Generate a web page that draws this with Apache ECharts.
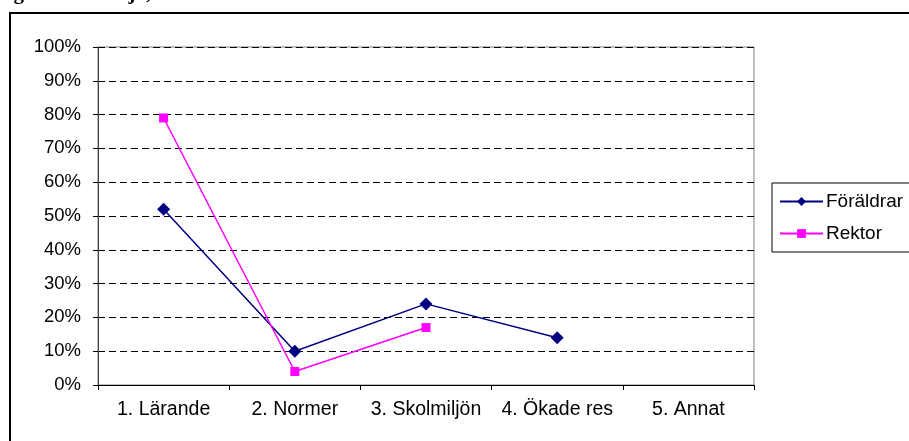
<!DOCTYPE html>
<html>
<head>
<meta charset="utf-8">
<script src="https://cdn.jsdelivr.net/npm/echarts@6/dist/echarts.min.js"></script>
<style>
html,body{margin:0;padding:0;background:#fff;}
#c{width:909px;height:441px;}
</style>
</head>
<body>
<div id="c"></div>
<script>
var categories = ['1. Lärande', '2. Normer', '3. Skolmiljön', '4. Ökade res', '5. Annat'];
var foraldrar = [52, 10, 24, 14, null];
var rektor = [79, 4, 17, null, null];
var yTicks = [0, 10, 20, 30, 40, 50, 60, 70, 80, 90, 100];

var chart = echarts.init(document.getElementById('c'), null, {renderer: 'canvas'});
var font = 'Liberation Sans, Arial, sans-serif';
chart.setOption({
  animation: false,
  backgroundColor: '#fff',
  graphic: [
    {type: 'rect', shape: {x: 10, y: 13, width: 1000, height: 1000},
     style: {fill: 'none', stroke: '#000', lineWidth: 2}, z: 100},
    {type: 'text', left: -18, top: -17,
     style: {text: 'Diagram 5: Om ja, vad har förbättrats i skolan?', font: 'bold 21px "Liberation Serif", serif', fill: '#000'}}
  ],
  grid: {left: 98, right: 155, top: 47, bottom: 56, show: true, borderColor: '#808080', borderWidth: 1, backgroundColor: 'transparent'},
  legend: {
    orient: 'vertical', left: 772, top: 183,
    backgroundColor: '#fff', borderColor: '#000', borderWidth: 1,
    padding: [9, 30, 9, 7], itemGap: 13, itemWidth: 43, itemHeight: 11,
    textStyle: {fontFamily: font, fontSize: 19, color: '#000', padding: [0, 0, 0, -2]},
    data: ['Föräldrar', 'Rektor']
  },
  xAxis: {
    type: 'category', data: categories, boundaryGap: true,
    axisLine: {lineStyle: {color: '#000', width: 1}},
    axisTick: {show: true, length: 5, lineStyle: {color: '#000'}},
    axisLabel: {fontFamily: font, fontSize: 19.5, color: '#000', margin: 15, interval: 0}
  },
  yAxis: {
    type: 'value', min: 0, max: 100, interval: 10,
    axisLine: {show: true, lineStyle: {color: '#404040', width: 1}},
    axisTick: {show: true, length: 5, lineStyle: {color: '#000'}},
    axisLabel: {fontFamily: font, fontSize: 18.5, color: '#000', margin: 17,
      formatter: function (v) { return yTicks.indexOf(v) >= 0 ? v + '%' : ''; }},
    splitLine: {show: true, lineStyle: {color: '#000', type: [7, 4], width: 1}}
  },
  series: [
    {name: 'Föräldrar', type: 'line', data: foraldrar, symbol: 'diamond', symbolSize: 13,
     lineStyle: {color: '#000080', width: 1.5}, itemStyle: {color: '#000080'}, connectNulls: false},
    {name: 'Rektor', type: 'line', data: rektor, symbol: 'rect', symbolSize: 9,
     lineStyle: {color: '#FF00FF', width: 1.5}, itemStyle: {color: '#FF00FF'}, connectNulls: false}
  ]
});
</script>
</body>
</html>
